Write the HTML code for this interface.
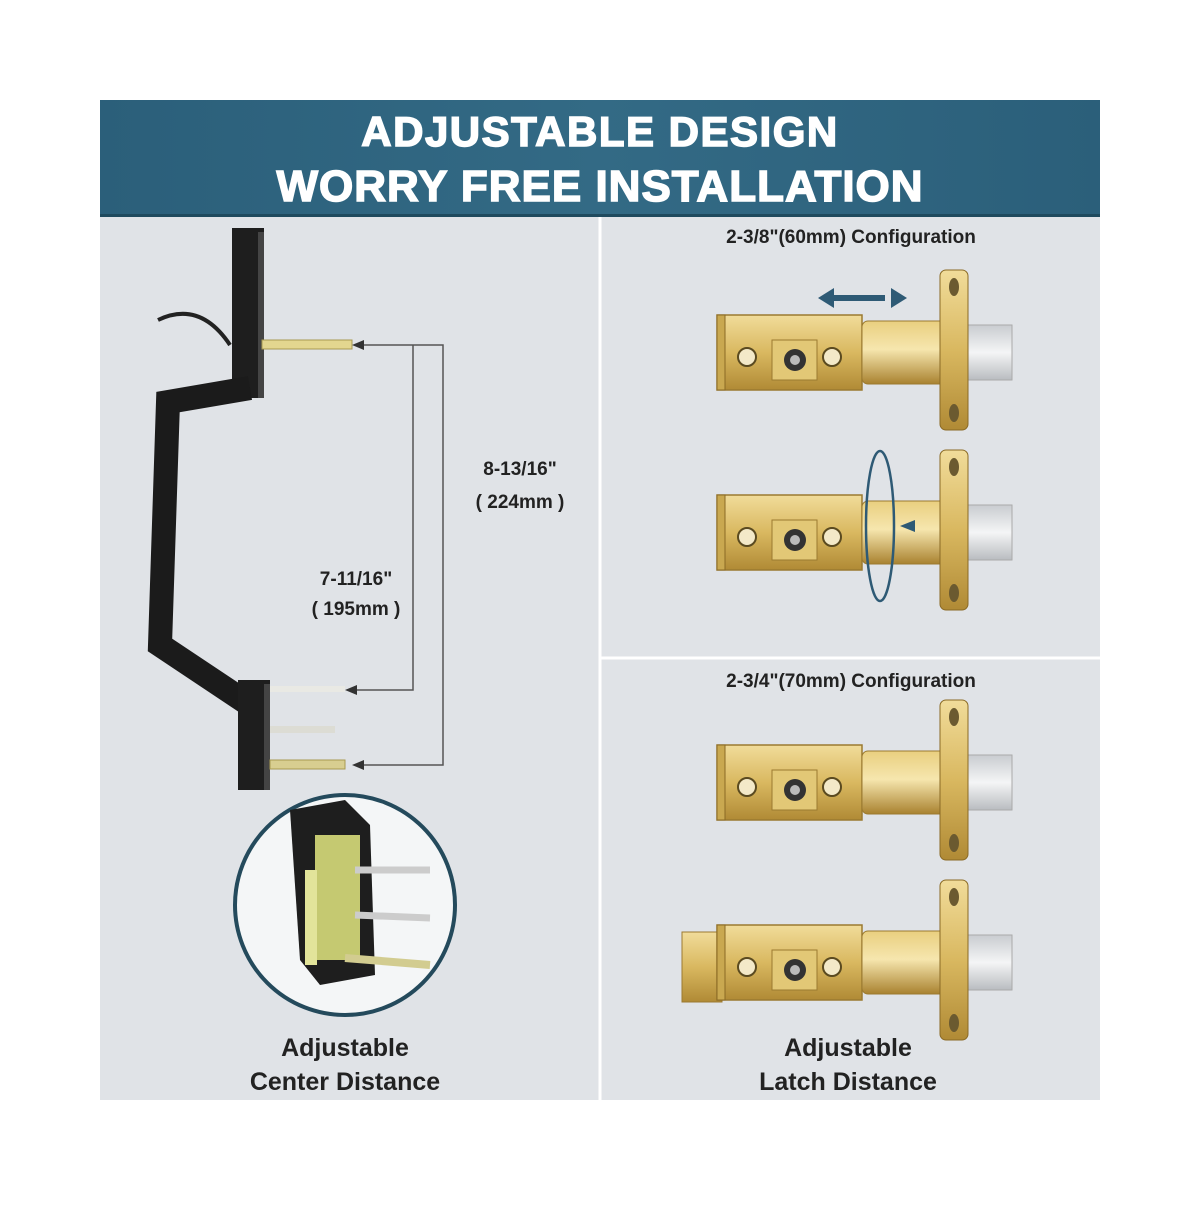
<!DOCTYPE html>
<html><head><meta charset="utf-8"><style>
body{margin:0;background:#fff;width:1200px;height:1200px;overflow:hidden}
svg text{font-family:"Liberation Sans",sans-serif}
</style></head><body>
<svg width="1200" height="1200" viewBox="0 0 1200 1200" xmlns="http://www.w3.org/2000/svg">
<defs>
<linearGradient id="hd" x1="0" y1="0" x2="1" y2="0"><stop offset="0" stop-color="#2b5f7a"/><stop offset="0.5" stop-color="#336a85"/><stop offset="1" stop-color="#2b5f7a"/></linearGradient>
<linearGradient id="gold" x1="0" y1="0" x2="0" y2="1"><stop offset="0" stop-color="#f1dc9a"/><stop offset="0.5" stop-color="#d9b860"/><stop offset="1" stop-color="#b08a35"/></linearGradient>
<linearGradient id="gold2" x1="0" y1="0" x2="0" y2="1"><stop offset="0" stop-color="#e9cf7f"/><stop offset="0.45" stop-color="#f6e6ae"/><stop offset="1" stop-color="#a98230"/></linearGradient>
<linearGradient id="bolt" x1="0" y1="0" x2="0" y2="1"><stop offset="0" stop-color="#c9ccd0"/><stop offset="0.5" stop-color="#f4f5f6"/><stop offset="1" stop-color="#b9bcc0"/></linearGradient>
<g id="latch">
<rect x="0" y="0" width="145" height="75" fill="url(#gold)" stroke="#9b7a30" stroke-width="1.5"/>
<rect x="0" y="0" width="8" height="75" fill="#c9a850" stroke="#8a6a25"/>
<rect x="145" y="6" width="85" height="63" rx="6" fill="url(#gold2)" stroke="#9b7a30"/>
<rect x="245" y="10" width="50" height="55" fill="url(#bolt)" stroke="#aaa"/>
<rect x="223" y="-45" width="28" height="160" rx="6" fill="url(#gold)" stroke="#8a6a25"/>
<ellipse cx="237" cy="-28" rx="5" ry="9" fill="#6b5a30"/>
<ellipse cx="237" cy="98" rx="5" ry="9" fill="#6b5a30"/>
<circle cx="30" cy="42" r="9" fill="#f3e9c8" stroke="#5a4a20" stroke-width="2"/>
<circle cx="115" cy="42" r="9" fill="#f3e9c8" stroke="#5a4a20" stroke-width="2"/>
<rect x="55" y="25" width="45" height="40" fill="#e2c876" stroke="#9b7a30"/>
<circle cx="78" cy="45" r="11" fill="#333"/><circle cx="78" cy="45" r="5" fill="#bbb"/>
</g>
</defs>
<rect x="100" y="100" width="1000" height="1000" fill="#e0e3e7"/>
<rect x="100" y="100" width="1000" height="116" fill="url(#hd)"/>
<rect x="100" y="214" width="1000" height="3" fill="#1f4a5e"/>
<text x="600" y="146" text-anchor="middle" font-size="42" font-weight="bold" letter-spacing="1.5" fill="#fff" stroke="#fff" stroke-width="1.5">ADJUSTABLE DESIGN</text>
<text x="600" y="201" text-anchor="middle" font-size="44" font-weight="bold" letter-spacing="1" fill="#fff" stroke="#fff" stroke-width="1.5">WORRY FREE INSTALLATION</text>
<line x1="600" y1="217" x2="600" y2="1100" stroke="#fff" stroke-width="3"/>
<line x1="600" y1="658" x2="1100" y2="658" stroke="#fff" stroke-width="3"/>

<path d="M158 320 Q200 300 230 345" fill="none" stroke="#222" stroke-width="4"/>
<rect x="232" y="228" width="32" height="170" fill="#1e1e1e"/>
<rect x="258" y="232" width="6" height="166" fill="#444"/>
<polyline points="250,388 168,402 160,645 250,705" fill="none" stroke="#1b1b1b" stroke-width="24" stroke-linejoin="miter"/>
<rect x="238" y="680" width="32" height="110" fill="#1e1e1e"/>
<rect x="264" y="684" width="6" height="106" fill="#444"/>
<rect x="262" y="340" width="90" height="9" fill="#e3d68f" stroke="#a89a50"/>
<rect x="270" y="686" width="75" height="6" fill="#e9e9e4"/>
<rect x="270" y="726" width="65" height="7" fill="#dcdcd4"/>
<rect x="270" y="760" width="75" height="9" fill="#d8ce90" stroke="#a89a50"/>

<g stroke="#555" stroke-width="1.5" fill="none">
<polyline points="358,345 443,345 443,765 358,765"/>
<polyline points="413,345 413,690 350,690"/>
</g>
<g fill="#333">
<polygon points="352,345 364,340 364,350"/>
<polygon points="345,690 357,685 357,695"/>
<polygon points="352,765 364,760 364,770"/>
</g>
<rect x="455" y="445" width="130" height="75" fill="#e0e3e7"/>
<text x="520" y="475" text-anchor="middle" font-size="19" font-weight="bold" fill="#222">8-13/16"</text>
<text x="520" y="508" text-anchor="middle" font-size="19" font-weight="bold" fill="#222">( 224mm )</text>
<rect x="300" y="560" width="110" height="60" fill="#e0e3e7"/>
<text x="356" y="585" text-anchor="middle" font-size="19" font-weight="bold" fill="#222">7-11/16"</text>
<text x="356" y="615" text-anchor="middle" font-size="19" font-weight="bold" fill="#222">( 195mm )</text>

<circle cx="345" cy="905" r="110" fill="#f4f6f7" stroke="#244a5c" stroke-width="4"/>
<polygon points="290,810 345,800 370,825 375,975 320,985 300,960" fill="#1e1e1e"/>
<rect x="315" y="835" width="45" height="125" fill="#d7db7a" opacity="0.9"/>
<rect x="305" y="870" width="12" height="95" fill="#e2e49a"/>
<line x1="355" y1="870" x2="430" y2="870" stroke="#ccc" stroke-width="7"/>
<line x1="355" y1="915" x2="430" y2="918" stroke="#ccc" stroke-width="7"/>
<line x1="345" y1="958" x2="430" y2="965" stroke="#d2cc90" stroke-width="8"/>
<text x="345" y="1056" text-anchor="middle" font-size="25" font-weight="bold" fill="#222">Adjustable</text>
<text x="345" y="1090" text-anchor="middle" font-size="25" font-weight="bold" fill="#222">Center Distance</text>

<text x="851" y="243" text-anchor="middle" font-size="19" font-weight="bold" fill="#222">2-3/8"(60mm) Configuration</text>
<text x="851" y="687" text-anchor="middle" font-size="19" font-weight="bold" fill="#222">2-3/4"(70mm) Configuration</text>

<g transform="translate(717,315)"><use href="#latch"/></g>
<g transform="translate(717,495)"><use href="#latch"/></g>
<g transform="translate(717,745)"><use href="#latch"/></g>
<rect x="682" y="932" width="40" height="70" fill="url(#gold)" stroke="#9b7a30"/>
<g transform="translate(717,925)"><use href="#latch"/></g>

<g fill="#2e5a75">
<rect x="830" y="295" width="55" height="6"/>
<polygon points="818,298 834,288 834,308"/>
<polygon points="907,298 891,288 891,308"/>
</g>
<ellipse cx="880" cy="526" rx="14" ry="75" fill="none" stroke="#2e5a75" stroke-width="2.5"/>
<polygon points="900,526 915,520 915,532" fill="#2e5a75"/>
<text x="848" y="1056" text-anchor="middle" font-size="25" font-weight="bold" fill="#222">Adjustable</text>
<text x="848" y="1090" text-anchor="middle" font-size="25" font-weight="bold" fill="#222">Latch Distance</text>
</svg>
</body></html>
